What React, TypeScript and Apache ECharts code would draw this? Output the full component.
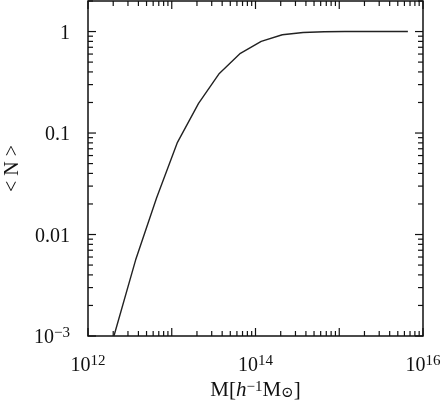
import React, { useEffect, useRef } from "react";
import * as echarts from "echarts";

// Halo mass bins [h^-1 Msun] and mean occupation <N>
const massValues = [2.04e12, 3.7e12, 6.6e12, 1.17e13, 2.09e13, 3.7e13, 6.6e13, 1.17e14, 2.09e14, 3.7e14, 6.6e14, 1.17e15, 2.09e15, 3.7e15, 6.6e15];
const meanN = [0.001, 0.0056, 0.023, 0.081, 0.196, 0.387, 0.61, 0.8, 0.93, 0.98, 0.995, 1.0, 1.0, 1.0, 1.0];

// axis ranges (decades) and ticks
const xDecades = [12, 13, 14, 15, 16];
const yDecades = [-3, -2, -1, 0];
const minorMultipliers = [2, 3, 4, 5, 6, 7, 8, 9];
const xMin = 1e12;
const xMax = 1e16;
const yMin = 1e-3;
const yMax = 2;
const yTickLabels: Record<string, string> = {
  "-3": "{b|10}{sup|−3}",
  "-2": "{b|0.01}",
  "-1": "{b|0.1}",
  "0": "{b|1}",
};

const FONT = "'Liberation Serif', 'DejaVu Serif', serif";

export default function App() {
  const ref = useRef<HTMLDivElement>(null);
  useEffect(() => {
    if (!ref.current) return;
    const chart = echarts.init(ref.current, null, { renderer: "svg" });
    const lx0 = Math.log10(xMin), lx1 = Math.log10(xMax);
    const ly0 = Math.log10(yMin), ly1 = Math.log10(yMax);

    const ticks: number[][] = [];
    xDecades.forEach((d) => {
      ticks.push([d, ly0, 0, 8]);
      if (d < lx1) minorMultipliers.forEach((m) => ticks.push([d + Math.log10(m), ly0, 0, 5]));
    });
    yDecades.forEach((d) => {
      ticks.push([lx0, d, 1, 8]);
      minorMultipliers.forEach((m) => {
        const v = d + Math.log10(m);
        if (v <= ly1 + 1e-9) ticks.push([lx0, v, 1, 5]);
      });
    });

    const lineData = massValues.map((m, i) => [Math.log10(m), Math.log10(meanN[i])]);

    const rich = {
      b: { fontFamily: FONT, fontSize: 20, color: "#111", lineHeight: 24 },
      sup: { fontFamily: FONT, fontSize: 15, color: "#111", verticalAlign: "top", lineHeight: 15 },
    };

    chart.setOption({
      animation: false,
      grid: {
        left: 88, right: 19, top: 1, bottom: 75,
        outerBoundsMode: "none",
        containLabel: false,
        show: true, borderColor: "#111", borderWidth: 1.5, backgroundColor: "transparent",
      },
      xAxis: {
        type: "value",
        min: lx0,
        max: lx1,
        interval: 2,
        axisLine: { show: false },
        axisTick: { show: false },
        splitLine: { show: false },
        axisLabel: {
          margin: 16,
          formatter: (v: number) => `{b|10}{sup|${v}}`,
          rich,
        },
        name: "M[{i|h}{sup|−1}M{sub|⊙}]",
        nameLocation: "middle",
        nameGap: 42,
        nameTextStyle: {
          fontFamily: FONT,
          fontSize: 21,
          color: "#111",
          rich: {
            i: { fontFamily: FONT, fontSize: 21, fontStyle: "italic", color: "#111" },
            sup: { fontFamily: FONT, fontSize: 15, color: "#111", verticalAlign: "top", lineHeight: 15 },
            sub: { fontFamily: FONT, fontSize: 15, color: "#111", verticalAlign: "bottom", lineHeight: 15 },
          },
        },
      },
      yAxis: {
        type: "value",
        min: ly0,
        max: ly1,
        interval: 1,
        axisLine: { show: false },
        axisTick: { show: false },
        splitLine: { show: false },
        axisLabel: {
          margin: 18,
          showMaxLabel: false,
          formatter: (v: number) => {
            if (Math.abs(v - Math.round(v)) > 1e-6) return "";
            return yTickLabels[String(Math.round(v))] ?? "";
          },
          rich,
        },
        name: "< N >",
        nameLocation: "middle",
        nameRotate: 90,
        nameGap: 67,
        nameTextStyle: { fontFamily: FONT, fontSize: 20, color: "#111" },
      },
      series: [
        {
          type: "custom",
          silent: true,
          data: ticks,
          encode: { x: 0, y: 1 },
          renderItem: (params: any, api: any) => {
            const cs = params.coordSys;
            const kind = api.value(2);
            const len = api.value(3);
            const pt = api.coord([api.value(0), api.value(1)]);
            const style = { stroke: "#111", lineWidth: 1.2 };
            if (kind === 0) {
              const px = pt[0];
              return {
                type: "group",
                children: [
                  { type: "line", shape: { x1: px, y1: cs.y + cs.height, x2: px, y2: cs.y + cs.height - len }, style },
                  { type: "line", shape: { x1: px, y1: cs.y, x2: px, y2: cs.y + len }, style },
                ],
              };
            }
            const py = pt[1];
            return {
              type: "group",
              children: [
                { type: "line", shape: { x1: cs.x, y1: py, x2: cs.x + len, y2: py }, style },
                { type: "line", shape: { x1: cs.x + cs.width, y1: py, x2: cs.x + cs.width - len, y2: py }, style },
              ],
            };
          },
        },
        {
          type: "line",
          data: lineData,
          showSymbol: false,
          symbol: "none",
          lineStyle: { color: "#222", width: 1.4 },
          clip: true,
        },
      ],
    });
    return () => chart.dispose();
  }, []);
  return <div ref={ref} style={{ position: "fixed", left: 0, top: 0, width: 442, height: 411 }} />;
}
